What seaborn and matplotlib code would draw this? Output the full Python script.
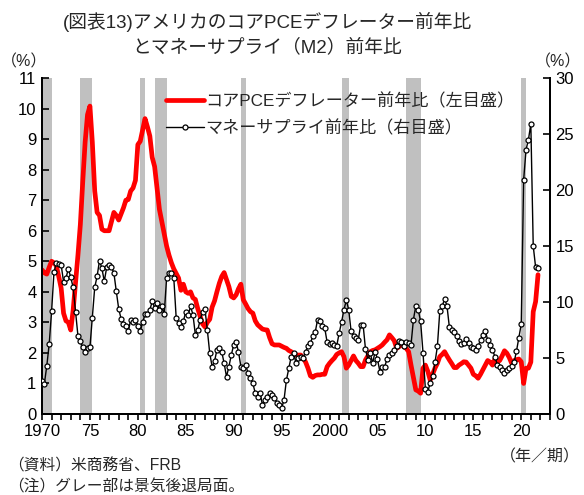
import numpy as np
import pandas as pd
import matplotlib
matplotlib.use("Agg")
import matplotlib.pyplot as plt
from matplotlib.lines import Line2D
import seaborn as sns

# Quarterly year-on-year rates, 1970Q1 - 2021Q4 (4 values per row = one year)
core_pce = [
    4.72, 4.62, 4.58, 4.80,   # 1970
    5.00, 4.95, 4.85, 4.50,   # 1971
    4.12, 3.30, 3.05, 3.00,   # 1972
    2.75, 3.40, 4.30, 5.20,   # 1973
    6.20, 7.60, 8.90, 9.80,   # 1974
    10.08, 8.90, 7.30, 6.60,  # 1975
    6.50, 6.05, 6.00, 6.00,   # 1976
    6.00, 6.30, 6.60, 6.50,   # 1977
    6.35, 6.55, 6.75, 7.00,   # 1978
    7.02, 7.30, 7.40, 7.65,   # 1979
    8.82, 8.93, 9.30, 9.67,   # 1980
    9.40, 9.10, 8.40, 8.10,   # 1981
    7.40, 6.70, 6.30, 5.90,   # 1982
    5.50, 5.20, 4.95, 4.75,   # 1983
    4.60, 4.45, 4.05, 4.25,   # 1984
    4.00, 3.95, 4.00, 3.80,   # 1985
    3.75, 3.45, 3.20, 2.95,   # 1986
    2.85, 3.00, 3.10, 3.50,   # 1987
    3.70, 4.00, 4.28, 4.50,   # 1988
    4.63, 4.40, 4.17, 3.85,   # 1989
    3.80, 3.90, 4.10, 4.25,   # 1990
    3.74, 3.60, 3.45, 3.35,   # 1991
    3.30, 3.05, 2.92, 2.85,   # 1992
    2.78, 2.76, 2.75, 2.50,   # 1993
    2.30, 2.26, 2.26, 2.26,   # 1994
    2.22, 2.18, 2.15, 2.08,   # 1995
    2.04, 1.98, 1.93, 1.93,   # 1996
    1.93, 1.83, 1.70, 1.50,   # 1997
    1.25, 1.20, 1.26, 1.28,   # 1998
    1.28, 1.30, 1.30, 1.55,   # 1999
    1.66, 1.75, 1.83, 1.95,   # 2000
    2.00, 2.04, 1.88, 1.50,   # 2001
    1.60, 1.75, 1.90, 1.75,   # 2002
    1.66, 1.55, 1.55, 1.77,   # 2003
    1.90, 2.04, 2.08, 2.10,   # 2004
    2.15, 2.20, 2.26, 2.35,   # 2005
    2.43, 2.59, 2.50, 2.40,   # 2006
    2.15, 2.20, 2.30, 2.20,   # 2007
    2.15, 2.04, 1.60, 1.20,   # 2008
    0.79, 0.75, 0.68, 1.50,   # 2009
    1.60, 1.40, 1.11, 1.30,   # 2010
    1.50, 1.66, 1.88, 1.95,   # 2011
    2.04, 1.90, 1.77, 1.65,   # 2012
    1.52, 1.52, 1.60, 1.65,   # 2013
    1.71, 1.70, 1.60, 1.50,   # 2014
    1.30, 1.25, 1.17, 1.30,   # 2015
    1.45, 1.60, 1.75, 1.70,   # 2016
    1.60, 1.80, 1.70, 1.75,   # 2017
    1.90, 2.07, 1.99, 1.85,   # 2018
    1.66, 1.75, 1.78, 1.80,   # 2019
    1.71, 1.00, 1.50, 1.50,   # 2020
    1.70, 3.35, 3.68, 4.56,   # 2021
]

money_m2 = [
    2.96, 2.72, 4.30, 6.24,   # 1970
    9.16, 12.66, 13.50, 13.40,  # 1971
    13.30, 11.80, 12.15, 12.96,  # 1972
    12.20, 11.30, 9.10, 6.98,  # 1973
    6.48, 5.94, 5.58, 5.88,   # 1974
    5.94, 8.57, 11.30, 12.30,  # 1975
    13.70, 13.00, 11.85, 13.10,  # 1976
    13.34, 13.10, 12.60, 10.96,  # 1977
    9.40, 8.50, 8.03, 7.82,   # 1978
    7.37, 8.40, 8.20, 8.40,   # 1979
    7.90, 7.37, 8.20, 8.90,   # 1980
    8.90, 9.30, 10.05, 9.50,  # 1981
    9.90, 9.30, 9.60, 8.90,   # 1982
    12.15, 12.60, 12.60, 12.15,  # 1983
    8.57, 8.10, 7.80, 8.27,   # 1984
    9.15, 8.87, 9.60, 8.87,   # 1985
    7.07, 7.50, 8.40, 9.15,   # 1986
    9.36, 7.50, 5.43, 4.23,   # 1987
    4.70, 5.73, 5.87, 5.57,   # 1988
    4.53, 3.33, 4.23, 5.27,   # 1989
    6.17, 6.39, 5.57, 4.23,   # 1990
    4.10, 4.40, 3.63, 3.19,   # 1991
    2.73, 1.86, 1.56, 1.86,   # 1992
    0.82, 1.26, 1.56, 1.86,   # 1993
    1.69, 1.39, 1.00, 0.82,   # 1994
    0.52, 1.26, 3.03, 4.10,   # 1995
    5.13, 5.43, 4.54, 5.00,   # 1996
    5.13, 4.99, 5.58, 6.03,   # 1997
    6.33, 6.93, 7.28, 8.42,   # 1998
    8.27, 7.82, 7.67, 6.39,   # 1999
    6.27, 6.33, 6.18, 6.09,   # 2000
    7.22, 8.18, 9.31, 10.15,  # 2001
    9.31, 7.37, 6.93, 6.78,   # 2002
    6.63, 7.97, 7.97, 5.79,   # 2003
    4.84, 5.43, 4.54, 5.58,   # 2004
    4.90, 3.79, 4.24, 4.24,   # 2005
    4.90, 5.28, 5.49, 5.73,   # 2006
    6.03, 6.48, 6.39, 6.03,   # 2007
    6.39, 6.33, 6.18, 8.42,   # 2008
    9.67, 9.31, 8.27, 5.49,   # 2009
    2.21, 2.00, 2.75, 3.40,   # 2010
    4.60, 6.03, 9.16, 9.61,   # 2011
    10.27, 9.67, 7.76, 7.52,  # 2012
    7.28, 6.93, 6.48, 6.27,   # 2013
    6.33, 6.69, 6.33, 5.97,   # 2014
    5.88, 5.67, 6.03, 6.63,   # 2015
    7.07, 7.37, 6.63, 6.18,   # 2016
    5.73, 5.13, 4.39, 4.24,   # 2017
    3.94, 3.64, 3.90, 4.10,   # 2018
    4.30, 4.60, 5.60, 6.80,   # 2019
    8.03, 20.90, 23.60, 24.50,  # 2020
    25.90, 15.00, 13.10, 13.00,  # 2021
]

# Recession periods (start, end) as fractional years
recessions = [(1970.0, 1971.0), (1974.0, 1975.25), (1980.25, 1980.75),
              (1981.75, 1983.0), (1990.75, 1991.25), (2001.25, 2002.0),
              (2008.0, 2009.5), (2020.0, 2020.5)]

quarters = pd.period_range("1970Q1", "2021Q4", freq="Q")
df = pd.DataFrame({
    "t": quarters.year + (quarters.quarter - 1) / 4.0,
    "core_pce": core_pce,
    "m2": money_m2,
})

sns.set_theme(style="white")
plt.rcParams["font.family"] = ["Liberation Sans", "Noto Sans CJK JP"]
plt.rcParams["axes.unicode_minus"] = False

W, H = 584, 495
fig = plt.figure(figsize=(W / 100, H / 100), dpi=100)
L, R, T, B = 42, 550, 78, 414
ax = fig.add_axes([L / W, 1 - B / H, (R - L) / W, (B - T) / H])
ax2 = ax.twinx()

for s, e in recessions:
    ax.axvspan(s, e, color="#c0c0c0", lw=0, zorder=0)

sns.lineplot(data=df, x="t", y="core_pce", ax=ax, color="#ff0000",
             lw=3.4, zorder=3, solid_joinstyle="round")
sns.lineplot(data=df, x="t", y="m2", ax=ax2, color="black", lw=1.0,
             marker="o", markersize=3.6, markerfacecolor="white",
             markeredgecolor="black", markeredgewidth=0.9, zorder=4)

ax.set_xlim(1970, 2023)
ax.set_ylim(0, 11)
ax2.set_ylim(0, 30)
ax.set_yticks(range(0, 12))
ax2.set_yticks(range(0, 31, 5))
years = list(range(1970, 2024))
ax.set_xticks(years)
lab = {1970: "1970", 1975: "75", 1980: "80", 1985: "85", 1990: "90",
       1995: "95", 2000: "2000", 2005: "05", 2010: "10", 2015: "15", 2020: "20"}
ax.set_xticklabels([lab.get(y, "") for y in years])
for a in (ax, ax2):
    a.set_xlabel("")
    a.set_ylabel("")
    a.grid(False)
    for side in ("left", "right", "bottom"):
        a.spines[side].set_visible(True)
        a.spines[side].set_color("black")
        a.spines[side].set_linewidth(1.4)
    a.spines["top"].set_visible(False)
ax.tick_params(axis="x", direction="out", length=4, width=1.2, labelsize=12,
               pad=3, bottom=True, colors="black")
ax.tick_params(axis="y", direction="in", length=5, width=1.2, labelsize=12,
               pad=4, left=True, colors="black")
ax2.tick_params(axis="y", direction="in", length=5, width=1.2, labelsize=12,
                pad=4, right=True, colors="black")

fig.text(267 / W, 1 - 22 / H, "(図表13)アメリカのコアPCEデフレーター前年比",
         ha="center", va="center", fontsize=13.5)
fig.text(267 / W, 1 - 47 / H, "とマネーサプライ（M2）前年比",
         ha="center", va="center", fontsize=13.5)
fig.text(24 / W, 1 - 62 / H, "（%）", ha="center", va="center", fontsize=11.5)
fig.text(558 / W, 1 - 62 / H, "（%）", ha="center", va="center", fontsize=11.5)
fig.text(580 / W, 1 - 457 / H, "（年／期）", ha="right", va="center", fontsize=11.5)
fig.text(8 / W, 1 - 466 / H, "（資料）米商務省、FRB", ha="left", va="center", fontsize=11.3)
fig.text(8 / W, 1 - 487 / H, "（注）グレー部は景気後退局面。", ha="left", va="center", fontsize=11.3)

handles = [
    Line2D([], [], color="#ff0000", lw=3.4),
    Line2D([], [], color="black", lw=1.0, marker="o", markersize=3.6,
           markerfacecolor="white", markeredgecolor="black", markeredgewidth=0.9),
]
labels = ["コアPCEデフレーター前年比（左目盛）", "マネーサプライ前年比（右目盛）"]
ax2.legend(handles, labels, loc="upper left", bbox_to_anchor=(166 / W, 1 - 93 / H),
           bbox_transform=fig.transFigure, frameon=False, fontsize=12.3,
           handlelength=2.2, handletextpad=0.1, labelspacing=0.62,
           borderpad=0, borderaxespad=0)

fig.savefig("out.png", dpi=100)
